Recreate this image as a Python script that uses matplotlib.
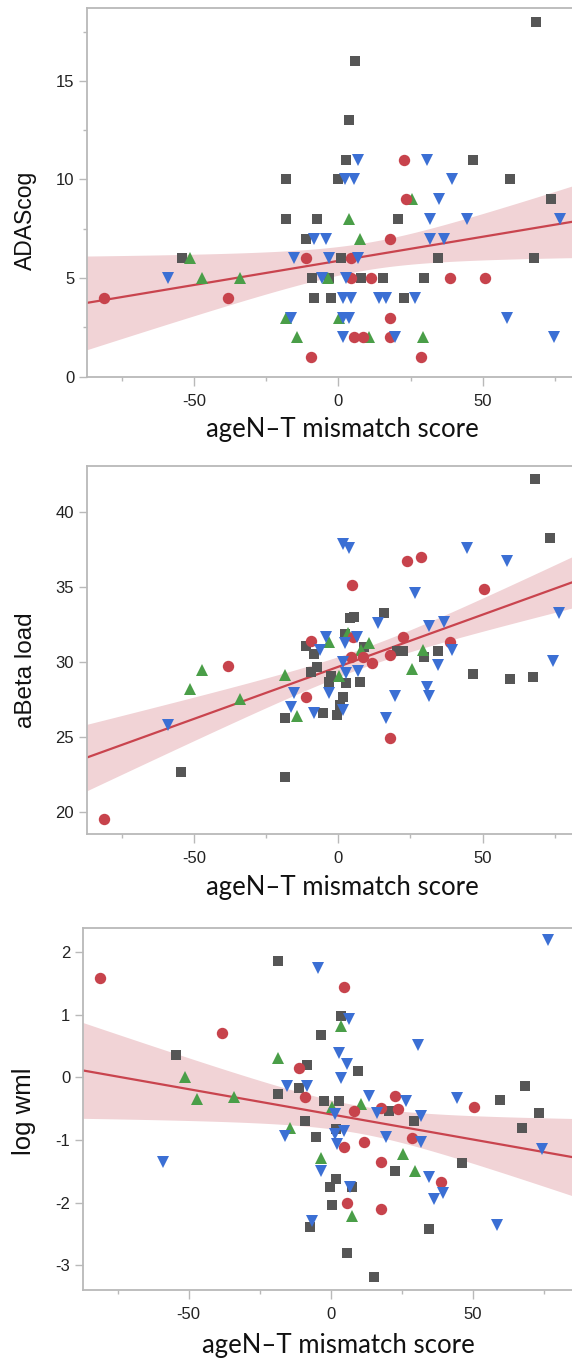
import matplotlib
matplotlib.use("Agg")
import matplotlib.pyplot as plt
import numpy as np

plt.rcParams["axes.unicode_minus"] = False

# ---- data (x = ageN-T mismatch score) ----
# panel 1: ADAScog
ad_gray_x = [68.3, 5.6, 3.6, 2.6, 46.6, -18.3, -0.3, 59.5, 73.5, -18.3, -7.3, 20.5, -11.3,
             -54.3, 0.9, 34.4, 67.6, -9.2, -3.2, 7.9, 15.5, 29.6, -8.3, -2.5, 22.6]
ad_gray_y = [18, 16, 13, 11, 11, 10, 10, 10, 9, 8, 8, 8, 7, 6, 6, 6, 6, 5, 5, 5, 5, 5, 4, 4, 4]
ad_blue_x = [6.7, 30.6, 2.4, 5.4, 39.5, 34.7, 31.6, 44.5, 76.8, -8.3, -4.4, 31.6, 36.6,
             -15.4, -3.2, 6.7, -59.1, -5.8, 2.6, 1.6, 4.3, 14.2, 16.5, 26.6,
             -16.5, 1.6, 3.7, 58.4, 1.6, 19.6, 74.6]
ad_blue_y = [11, 11, 10, 10, 10, 9, 8, 8, 8, 7, 7, 7, 7, 6, 6, 6, 5, 5, 5, 4, 4, 4, 4, 4,
             3, 3, 3, 3, 2, 2, 2]
ad_red_x = [22.6, 23.4, 17.8, -11.3, 4.3, 4.3, 11.4, 38.6, 50.6, -81.2, -38.2, 17.8,
            5.4, 8.5, 17.8, -9.4, 28.7]
ad_red_y = [11, 9, 7, 6, 6, 5, 5, 5, 5, 4, 4, 3, 2, 2, 2, 1, 1]
ad_green_x = [25.6, 3.7, 7.6, -51.3, -47.1, -34.2, -3.5, -18.3, 0.3, -14.2, 10.7, 29.4]
ad_green_y = [9, 8, 7, 6, 5, 5, 5, 3, 3, 2, 2, 2]

# panel 2: aBeta load
ab_gray_x = [68.3, 73.3, 15.7, 3.9, 5.6, 2.4, -11.3, -8.5, 8.8, 20.5, 22.6, 29.6, 34.4, 46.6,
             59.5, 67.6, -9.6, -7.3, -2.5, -3.1, 2.8, 7.6, 1.6, 0.6, -5.4, -0.3, -18.3,
             -54.3, -18.3]
ab_gray_y = [42.2, 38.26, 33.25, 32.96, 33.02, 31.9, 31.06, 30.5, 31.0, 30.7, 30.7, 30.35,
             30.7, 29.17, 28.88, 29.0, 29.35, 29.68, 29.06, 28.68, 28.57, 28.63, 27.63,
             27.12, 26.6, 26.45, 26.27, 22.66, 22.33]
ab_blue_x = [1.6, 3.7, 44.5, 58.4, 26.5, 76.4, 13.6, 31.6, 36.6, 6.6, 2.4, -4.4, -6.4, 39.5,
             34.4, 1.6, 74.4, 2.8, 6.7, -15.2, -3.2, 19.6, 30.6, 31.6, -16.5, 1.6, -8.3,
             16.7, -59.1]
ab_blue_y = [37.86, 37.6, 37.6, 36.75, 34.63, 33.25, 32.6, 32.4, 32.7, 31.7, 31.3, 31.64,
             30.8, 30.8, 29.8, 30.0, 30.08, 29.24, 29.41, 27.94, 27.9, 27.72, 28.34, 27.72,
             26.96, 26.78, 26.6, 26.23, 25.78]
ab_red_x = [23.7, 28.7, 4.7, 50.6, 5.1, -9.4, 22.6, 4.5, 8.7, 11.7, 17.8, 38.6, -38.2,
            -11.3, 17.8, -81.2]
ab_red_y = [36.75, 36.99, 35.16, 34.85, 31.7, 31.42, 31.7, 30.35, 30.35, 29.9, 30.46,
            31.35, 29.73, 27.63, 24.89, 19.48]
ab_green_x = [3.5, -3.2, 10.7, 7.9, 29.4, 25.6, 0.3, -18.3, -47.1, -51.3, -34.2, -14.2]
ab_green_y = [31.95, 31.35, 31.3, 30.8, 30.8, 29.55, 29.06, 29.1, 29.46, 28.17, 27.5, 26.4]

# panel 3: log wml
wm_gray_x = [-18.4, 3.7, -3.4, -54.3, -8.3, 9.7, -18.4, -11.3, -2.3, 2.8, 59.6, 68.6, 20.5,
             73.4, 29.5, -9.2, 67.5, 2.0, -5.3, 46.4, 22.6, 1.8, -0.2, 7.5, 0.5, -7.4,
             34.5, 5.6, 15.4]
wm_gray_y = [1.86, 0.98, 0.67, 0.36, 0.19, 0.10, -0.27, -0.17, -0.38, -0.38, -0.36, -0.14,
             -0.54, -0.57, -0.70, -0.70, -0.81, -0.82, -0.95, -1.37, -1.50, -1.62, -1.75,
             -1.75, -2.03, -2.39, -2.42, -2.80, -3.18]
wm_blue_x = [76.6, -4.4, 6.6, 30.6, 2.8, 5.6, 3.7, -15.3, -8.3, 13.6, 26.4, 44.4, 1.5, 16.5,
             31.7, 4.6, 1.5, -16.2, 19.5, 31.7, 2.4, 74.6, -59.2, -3.3, 34.5, 6.9, 39.6,
             36.4, -6.6, 58.5]
wm_blue_y = [2.19, 1.74, 0.94, 0.51, 0.39, 0.22, -0.005, -0.14, -0.14, -0.29, -0.37, -0.33,
             -0.58, -0.57, -0.62, -0.86, -0.90, -0.94, -0.95, -1.03, -1.06, -1.14, -1.35,
             -1.50, -1.59, -1.75, -1.85, -1.94, -2.29, -2.35]
wm_red_x = [-81.3, 4.6, -38.3, -11.3, -9.2, 22.6, 17.7, 23.6, 8.4, 50.6, 28.5, 11.7, 4.6,
            17.7, 38.8, 5.6, 17.7]
wm_red_y = [1.58, 1.45, 0.71, 0.15, -0.31, -0.29, -0.49, -0.51, -0.53, -0.47, -0.97, -1.03,
            -1.11, -1.35, -1.67, -2.01, -2.10]
wm_green_x = [3.7, -18.4, -51.2, -47.0, -34.2, 10.8, 0.5, -14.3, -3.3, 25.6, 29.7, 7.5]
wm_green_y = [0.82, 0.31, 0.005, -0.35, -0.31, -0.42, -0.47, -0.81, -1.29, -1.22, -1.50, -2.22]

ylabels = ["ADAScog", "aBeta load", "log wml"]
xlabel = "ageN\u2013T mismatch score"

GRAY, BLUE, RED, GREEN = "#565656", "#3b6fd4", "#c7434c", "#4a9e48"
SPINE = "#b9b9b9"

W, H = 572, 1361
fig = plt.figure(figsize=(W / 100, H / 100), dpi=100)


def add_axes(left, top, bottom, width):
    return fig.add_axes([left / W, 1 - bottom / H, width / W, (bottom - top) / H])


def fit_band(ax, xs, ys, xlim):
    x = np.asarray(xs, float)
    y = np.asarray(ys, float)
    n = len(x)
    b, a = np.polyfit(x, y, 1)
    res = y - (a + b * x)
    s = np.sqrt(np.sum(res ** 2) / (n - 2))
    sxx = np.sum((x - x.mean()) ** 2)
    g = np.linspace(xlim[0], xlim[1], 200)
    yhat = a + b * g
    se = s * np.sqrt(1 / n + (g - x.mean()) ** 2 / sxx)
    ax.fill_between(g, yhat - 1.99 * se, yhat + 1.99 * se, color="#f1d3d6", lw=0, zorder=1)
    ax.plot(g, yhat, color="#c9444e", lw=1.6, zorder=2)


def panel(ax, groups, xlim, ylim, yticks, yminor, ylab, labsize, ylab_y, ylab_x, xlab_y, xlab_x):
    allx = sum([g[0] for g in groups], [])
    ally = sum([g[1] for g in groups], [])
    fit_band(ax, allx, ally, xlim)
    for gx, gy, m, c, ms in groups:
        ax.plot(gx, gy, ls="none", marker=m, color=c, ms=ms, mew=0, zorder=3)
    ax.set_xlim(xlim)
    ax.set_ylim(ylim)
    ax.set_xticks([-50, 0, 50])
    ax.set_xticks([-75, -25, 25, 75], minor=True)
    ax.set_yticks(yticks)
    ax.set_yticks(yminor, minor=True)
    for sp in ["left", "top", "bottom"]:
        ax.spines[sp].set_color(SPINE)
        ax.spines[sp].set_linewidth(1.3)
    ax.spines["right"].set_visible(False)
    ax.tick_params(axis="x", which="major", length=6.3, width=1, color=SPINE, pad=6,
                   labelsize=12, labelcolor="#222222")
    ax.tick_params(axis="x", which="minor", length=3.2, width=1, color=SPINE)
    ax.tick_params(axis="y", which="major", length=5.5, width=1, color=SPINE, pad=3.5,
                   labelsize=12, labelcolor="#222222")
    ax.tick_params(axis="y", which="minor", length=3, width=1, color=SPINE)
    for t in ax.get_xticklabels() + ax.get_yticklabels():
        t.set_fontfamily("Liberation Sans")
    ax.set_ylabel(ylab, fontsize=labsize, fontfamily="Liberation Sans", color="#111111")
    ax.set_xlabel(xlabel, fontsize=18.5, fontfamily="Lato", color="#111111")
    pos = ax.get_position()
    l, b0, w, h = pos.x0 * W, (1 - pos.y1) * H, pos.width * W, pos.height * H
    ax.yaxis.set_label_coords((ylab_x - l) / w, 1 - (ylab_y - b0) / h)
    ax.xaxis.set_label_coords((xlab_x - l) / w, 1 - (xlab_y - b0) / h)
    ax.yaxis.label.set_va("center")
    ax.xaxis.label.set_va("center")


ax1 = add_axes(86.7, 8.3, 376.7, 177.2 * 2.887)
panel(ax1,
      [(ad_gray_x, ad_gray_y, "s", GRAY, 7.2), (ad_green_x, ad_green_y, "^", GREEN, 8.4),
       (ad_red_x, ad_red_y, "o", RED, 8.2), (ad_blue_x, ad_blue_y, "v", BLUE, 8.4)],
      (-87.2, 90), (0, 18.68), [0, 5, 10, 15], [2.5, 7.5, 12.5, 17.5],
      ylabels[0], 16.5, 220, 25.5, 430, 342)

ax2 = add_axes(86.5, 466, 834, 177.2 * 2.887)
panel(ax2,
      [(ab_gray_x, ab_gray_y, "s", GRAY, 7.2), (ab_green_x, ab_green_y, "^", GREEN, 8.4),
       (ab_red_x, ab_red_y, "o", RED, 8.2), (ab_blue_x, ab_blue_y, "v", BLUE, 8.4)],
      (-87.2, 90), (18.5, 43.1), [20, 25, 30, 35, 40], [],
      ylabels[1], 17.5, 670, 25.5, 888, 342)

ax3 = add_axes(82.7, 927.7, 1290.3, 177.3 * 2.84)
panel(ax3,
      [(wm_gray_x, wm_gray_y, "s", GRAY, 7.2), (wm_green_x, wm_green_y, "^", GREEN, 8.4),
       (wm_red_x, wm_red_y, "o", RED, 8.2), (wm_blue_x, wm_blue_y, "v", BLUE, 8.4)],
      (-87.3, 90), (-3.40, 2.39), [-3, -2, -1, 0, 1, 2], [],
      ylabels[2], 18.5, 1111, 23.7, 1346, 338)

fig.savefig("out.png", dpi=100)
